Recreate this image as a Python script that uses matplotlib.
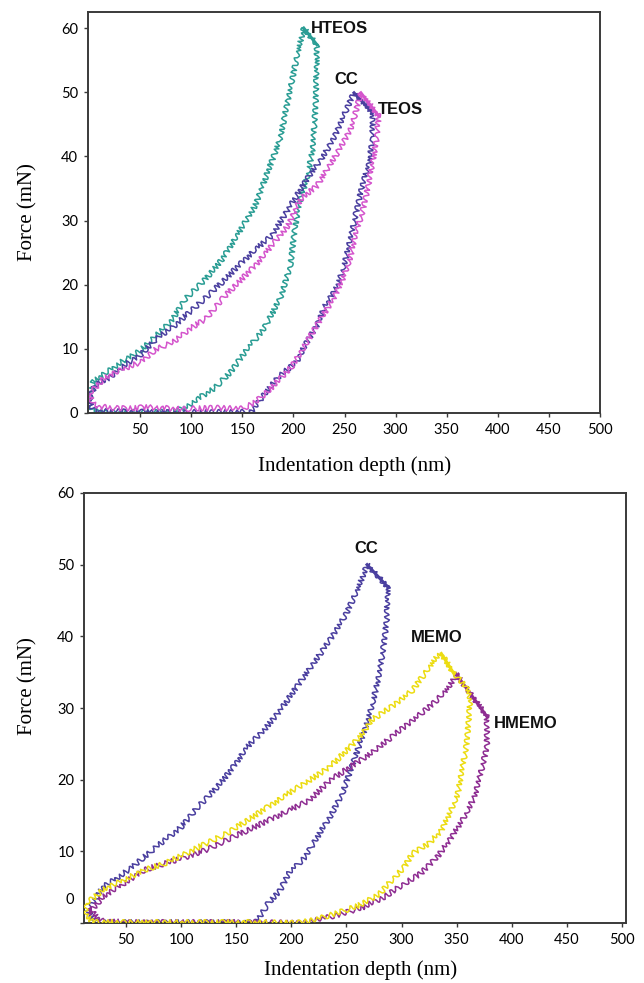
import matplotlib
matplotlib.use('Agg')
import matplotlib.pyplot as plt
import numpy as np

# ---- top panel: HTEOS / CC / TEOS (x: depth nm, y: force mN) ----
hteos_x = [2, 3.6, 17.7, 33.8, 49.9, 66.0, 82.1, 94.2, 114.3, 130.4, 146.5, 162.6, 174.7, 186.8, 194.8, 202.9, 210.1,
           223, 222, 219, 213, 205, 201, 197, 187, 171, 155, 138.5, 122.4, 106, 94, 80, 60, 40, 20, 5, 1, 2]
hteos_y = [2, 4.8, 6.4, 8.2, 9.7, 12.1, 14.7, 17.8, 20.9, 24.0, 28.1, 32.3, 37.5, 42.6, 48.9, 55.1, 60.0,
           57.4, 48.9, 41.1, 36.4, 32.3, 28.1, 23.0, 17.8, 13.1, 10.0, 6.4, 3.8, 2.2, 0.7, 0.2, 0.1, 0.2, 0.1, 0.3, 1.0, 2]

cc1_x = [1, 5.6, 21.7, 33.8, 49.9, 66, 82, 98.2, 114.3, 130.4, 146.5, 162.6, 178.7, 190.8, 202.9, 215, 227, 239, 249, 259.3,
         277.4, 277.4, 273.3, 267.3, 261.3, 257.2, 251.2, 243.2, 231, 223, 211, 202.9, 186.8, 170.7, 158.6, 120, 80, 40, 10, 2, 1]
cc1_y = [2.2, 4.3, 5.6, 7.4, 9.0, 11.6, 13.4, 15.7, 18.0, 20.4, 23.0, 25.5, 27.6, 30.7, 33.8, 36.9, 39.5, 42.6, 46.3, 49.9,
         46.8, 42.6, 38.5, 35.4, 31.2, 28.1, 24.0, 19.8, 16.7, 13.6, 10.5, 7.9, 5.9, 2.7, 0.2, 0.1, 0.1, 0.2, 0.3, 1.0, 2.2]

teos_x = [1, 13.7, 33.8, 49.9, 66, 82, 98.2, 114.3, 130.4, 146.5, 162.6, 178.7, 194.8, 206.9, 223, 235, 247, 257.2, 266,
          283.4, 281.4, 277.4, 273.3, 267.3, 261.3, 255.2, 247.2, 239, 227, 219, 211, 199, 186.8, 174.7, 162.6, 150.6,
          120, 90, 60, 30, 10, 3, 1]
teos_y = [3.0, 5.3, 6.9, 7.9, 10.0, 11.0, 13.1, 14.7, 17.8, 20.4, 23.0, 26.1, 29.2, 33.3, 35.4, 38.5, 41.6, 44.7, 49.9,
          46.3, 42.6, 39.0, 35.4, 31.2, 28.1, 24.0, 20.4, 17.8, 14.7, 12.6, 10.5, 7.4, 5.3, 3.3, 1.7, 0.7,
          0.8, 0.6, 0.9, 0.7, 1.0, 1.5, 3.0]

# ---- bottom panel: CC / MEMO / HMEMO ----
cc2_x = [16, 29, 47.8, 66.5, 85.2, 100.2, 115.2, 130.1, 145.1, 160.1, 175.1, 190.1, 205.1, 220, 235, 250, 261.2, 268.7,
         287.4, 286.6, 283.6, 280, 274.4, 268.7, 261.2, 253.7, 246.3, 235, 223.7, 212.5, 197.5, 190, 178.8, 171.3, 165.7,
         120, 80, 40, 20, 16]
cc2_y = [1.8, 5.0, 6.9, 9.2, 11.6, 13.4, 16.2, 18.5, 21.3, 24.6, 26.9, 29.7, 33.0, 36.2, 39.5, 43.2, 46.9, 50.0,
         46.9, 42.3, 38.6, 34.8, 31.1, 27.9, 24.6, 21.3, 18.1, 14.8, 12.0, 9.2, 6.9, 4.6, 2.7, 0.8, 0.1,
         0.1, 0.1, 0.1, 0.3, 1.8]

memo_x = [14.2, 29, 47.8, 66.5, 85.2, 104, 122.6, 141.4, 160, 178.8, 197.5, 216.3, 235, 253.7, 265, 272.5, 291.2, 310,
          321, 332.3, 336, 347.4, 358.6, 362.3, 360.4, 358.6, 354.8, 351.1, 343.6, 336, 324.8, 310, 302.4, 291.2, 280,
          265, 250, 235, 220, 205, 160, 100, 50, 20, 14, 14.2]
memo_y = [2.7, 4.6, 6.0, 7.4, 8.3, 9.7, 11.1, 12.5, 14.3, 16.2, 18.1, 19.9, 21.8, 24.6, 26.5, 28.3, 30.2, 32.5,
          34.8, 37.2, 37.6, 34.8, 33.0, 31.1, 27.4, 24.6, 21.3, 18.1, 15.3, 12.9, 11.1, 9.7, 7.8, 6.0, 4.1,
          2.7, 1.8, 1.1, 0.4, 0.0, 0.1, 0.1, 0.1, 0.2, 1.0, 2.7]

hmemo_x = [16, 29, 47.8, 66.5, 85.2, 104, 122.6, 141.4, 160, 178.8, 197.5, 216.3, 235, 253.7, 272.5, 291.2, 310, 328.6,
           343.6, 349.2, 377.4, 377.4, 371.8, 366.2, 355, 343.6, 332.3, 317.3, 302.4, 283.8, 265, 246.2, 227.5, 212.5,
           160, 100, 50, 25, 18, 16]
hmemo_y = [1.3, 3.6, 5.5, 7.4, 8.3, 9.2, 10.2, 11.6, 12.9, 14.3, 15.7, 17.1, 19.9, 21.8, 23.7, 26.0, 28.3, 30.6,
           33.0, 34.8, 28.8, 24.6, 20.9, 17.6, 14.3, 11.6, 9.2, 6.9, 5.5, 3.6, 2.2, 1.3, 0.6, 0.0,
           0.1, 0.1, 0.1, 0.4, 2.0, 1.3]

top_labels = ['HTEOS', 'CC', 'TEOS']
top_label_pos = [(217, 60.0), (240, 52.0), (283, 47.3)]
bot_labels = ['CC', 'MEMO', 'HMEMO']
bot_label_pos = [(257, 52.2), (308, 39.8), (383.5, 27.9)]

x_ticks = [50, 100, 150, 200, 250, 300, 350, 400, 450, 500]
y_ticks = [0, 10, 20, 30, 40, 50, 60]

TEAL = '#2a9d94'
INDIGO = '#4a3f9f'
MAGENTA = '#d455cc'
YELLOW = '#ecdc12'
PURPLE = '#8e2d92'

SERIF = ['Liberation Serif', 'DejaVu Serif']
TICKFONT = ['Lato', 'DejaVu Sans']
BOLD = ['Liberation Sans', 'DejaVu Sans']


def drawCurve(ax, xs, ys, color, z=2):
    line, = ax.plot(xs, ys, color=color, lw=1.1, zorder=z)
    line.set_sketch_params(scale=2.6, length=7, randomness=3)
    # the hold segment right after the peak looks darker/thicker
    ip = int(np.argmax(ys))
    hold, = ax.plot(xs[ip:ip + 2], ys[ip:ip + 2], color=color, lw=2.2, zorder=z)
    return line


def styleAxes(ax, xlim, ylim):
    ax.set_xlim(*xlim)
    ax.set_ylim(*ylim)
    for s in ax.spines.values():
        s.set_color('#3a3a3a')
        s.set_linewidth(1.4)
    ax.set_xticks(x_ticks)
    ax.set_yticks(y_ticks)
    ax.tick_params(direction='out', length=3, width=1, color='#3a3a3a', labelsize=10.5, pad=4)
    for lab in ax.get_xticklabels() + ax.get_yticklabels():
        lab.set_family(TICKFONT)
    ax.set_xlabel('Indentation depth (nm)', fontsize=15, family=SERIF)
    ax.set_ylabel('Force (mN)', fontsize=15, family=SERIF)


fig = plt.figure(figsize=(6.44, 9.83), dpi=100)

# top panel
ax1 = fig.add_axes([88 / 644, 1 - 413 / 983, (600 - 88) / 644, (413 - 12) / 983])
drawCurve(ax1, hteos_x, hteos_y, TEAL)
drawCurve(ax1, cc1_x, cc1_y, INDIGO)
drawCurve(ax1, teos_x, teos_y, MAGENTA)
styleAxes(ax1, (-1, 498), (0, 62.5))
ax1.xaxis.set_label_coords(0.52, -0.107)
ax1.yaxis.set_label_coords(-0.098, 0.5)
for txt, (tx, ty) in zip(top_labels, top_label_pos):
    ax1.text(tx, ty, txt, fontsize=12, fontweight='bold', family=BOLD, va='center', ha='left', color='#111111')

# bottom panel
ax2 = fig.add_axes([84 / 644, 1 - 923 / 983, (626 - 84) / 644, (923 - 493) / 983])
drawCurve(ax2, cc2_x, cc2_y, INDIGO)
drawCurve(ax2, hmemo_x, hmemo_y, PURPLE)
drawCurve(ax2, memo_x, memo_y, YELLOW, z=3)
styleAxes(ax2, (12, 503.5), (0, 60))
# the zero label sits a bit above the axis in the original
labels = [str(v) for v in y_ticks]
labels[0] = ''
ax2.set_yticklabels(labels)
for lab in ax2.get_yticklabels():
    lab.set_family(TICKFONT)
ax2.annotate('0', xy=(0, 3.2), xycoords=('axes fraction', 'data'), xytext=(-7, 0),
             textcoords='offset points', ha='right', va='center', fontsize=10.5, family=TICKFONT)
ax2.xaxis.set_label_coords(0.51, -0.086)
ax2.yaxis.set_label_coords(-0.085, 0.55)
for txt, (tx, ty) in zip(bot_labels, bot_label_pos):
    ax2.text(tx, ty, txt, fontsize=12, fontweight='bold', family=BOLD, va='center', ha='left', color='#111111')

fig.savefig('out.png', dpi=100)
